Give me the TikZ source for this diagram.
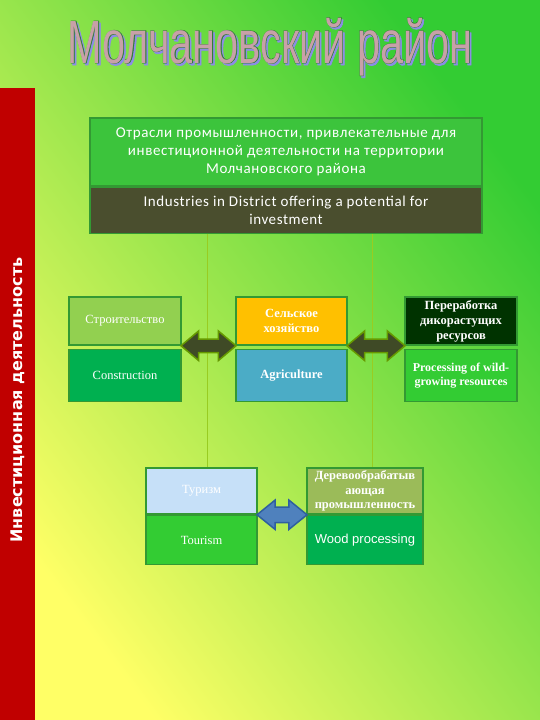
\documentclass[tikz,border=0pt]{standalone}
\usepackage{fontspec}
\setmainfont{Liberation Serif}
\newfontfamily\hdrfont[LetterSpace=4]{Carlito}
\newfontfamily\ttlfont{Liberation Sans}
\newfontfamily\ttlfat[FakeBold=1.2]{Liberation Sans}
\newfontfamily\barfont{DejaVu Sans}
\usetikzlibrary{shapes,arrows,positioning,calc}

\definecolor{bgyellow}{HTML}{FFFF66}
\definecolor{bgmiddle}{HTML}{C2E652}
\definecolor{bggreen}{HTML}{33CC33}
\definecolor{barred}{HTML}{C00000}
\definecolor{boxedge}{HTML}{339933}
\definecolor{hdrgreen}{HTML}{3CC43C}
\definecolor{hdrolive}{HTML}{4A4E2E}
\definecolor{litegreen}{HTML}{92D050}
\definecolor{darkgreen}{HTML}{00B050}
\definecolor{amber}{HTML}{FFC000}
\definecolor{aqua}{HTML}{4BACC6}
\definecolor{forest}{HTML}{003300}
\definecolor{grass}{HTML}{33CC33}
\definecolor{skyblue}{HTML}{C6E0F8}
\definecolor{olivegreen}{HTML}{9BBB59}
\definecolor{arrowolive}{HTML}{3F4A26}
\definecolor{arrowedge}{HTML}{669900}
\definecolor{arrowblue}{HTML}{4F81BD}
\definecolor{arrowblueedge}{HTML}{2F5F9F}
\definecolor{linkgreen}{HTML}{99CC22}
\definecolor{ttlpink}{HTML}{C8A0A8}
\definecolor{ttledge}{HTML}{2E7D32}
\definecolor{ttlshadow}{HTML}{8C8CE6}

\newcommand{\titleword}{Молчановский район}

\begin{document}
\begin{tikzpicture}
				[
					x=1pt, y=-1pt,
					titletext/.style={anchor=base, inner sep=0, xscale=0.68, transform shape, font=\fontsize{61}{61}\selectfont},
					headbox/.style={rectangle, draw=boxedge, line width=1.5pt, minimum width=392, text=white, align=center, font=\hdrfont\fontsize{15}{18}\selectfont},
					topbox/.style={rectangle, draw=boxedge, line width=1.5pt, minimum width=112, minimum height=48, text=white, align=center, inner sep=1pt, font=\fontsize{12.5}{15}\selectfont},
					lowbox/.style={topbox, minimum height=52},
					dblarrow/.style={double arrow, line width=1.5pt, inner sep=6pt, minimum height=55, minimum width=28, double arrow head extend=8, double arrow tip angle=80},
					vlink/.style={draw=linkgreen, line width=0.8pt},
				]

				% background and side bar
				\shade [shading=axis, top color=bggreen, middle color=bgmiddle, bottom color=bgyellow, shading angle=-53] (0,0) rectangle (540,720);
				\useasboundingbox (0,0) rectangle (540,720);
				\fill [barred] (0,88) rectangle (35,720);
				\node [rotate=90, text=white, font=\barfont\bfseries\fontsize{16}{18}\selectfont] (sidebar) at (18,400) {Инвестиционная деятельность};

				% title: shadow, outline, fill
				\node [titletext] (title) at (270,63) {\rlap{\hspace{2.5pt}\raisebox{-2pt}{\color{ttlshadow}\ttlfat\titleword}}\rlap{\color{ttledge}\ttlfat\titleword}{\color{ttlpink}\ttlfont\titleword}};

				% header
				\node [headbox, fill=hdrgreen, minimum height=68] (hdrru) at (286,152) {Отрасли промышленности, привлекательные для\\инвестиционной деятельности на территории\\Молчановского района};
				\node [headbox, fill=hdrolive, minimum height=46] (hdren) [below=0pt of hdrru] {Industries in District offering a potential for\\investment};

				% first row
				\node [topbox, fill=litegreen] (consru) at (125,321) {Строительство};
				\node [lowbox, fill=darkgreen] (consen) [below=3pt of consru] {Construction};
				\node [topbox, fill=amber, minimum width=111] (agriru) at (291.5,321) {\bfseries Сельское\\\bfseries хозяйство};
				\node [lowbox, fill=aqua, minimum width=111] (agrien) [below=3pt of agriru] {\bfseries Agriculture};
				\node [topbox, fill=forest] (wildru) at (461,321) {\bfseries Переработка\\\bfseries дикорастущих\\\bfseries ресурсов};
				\node [lowbox, fill=grass, font=\fontsize{12}{14.5}\selectfont] (wilden) [below=3pt of wildru] {\bfseries Processing of wild-\\\bfseries growing resources};

				% second row
				\node [topbox, fill=skyblue, minimum width=111, minimum height=46] (tourru) at (201.5,491) {Туризм};
				\node [lowbox, fill=grass, minimum width=111, minimum height=49] (touren) [below=0pt of tourru] {Tourism};
				\node [topbox, fill=olivegreen, minimum width=116, minimum height=46, font=\fontsize{12.5}{14.5}\selectfont] (woodru) at (365,491) {\bfseries Деревообрабатыв\\\bfseries ающая\\\bfseries промышленность};
				\node [lowbox, fill=darkgreen, minimum width=116, minimum height=49, font=\ttlfont\fontsize{13}{15}\selectfont] (wooden) [below=0pt of woodru] {Wood processing};

				% links from the header
				\draw [vlink] ([xshift=5.5pt]tourru.north |- hdren.south) -- ([xshift=5.5pt]tourru.north);
				\draw [vlink] ([xshift=7pt]woodru.north |- hdren.south) -- ([xshift=7pt]woodru.north);

				% double arrows
				\node [dblarrow, fill=arrowolive, draw=arrowedge] (consagri) at ($(consru.south east)!0.5!(agriru.south west)$) {};
				\node [dblarrow, fill=arrowolive, draw=arrowedge, minimum height=58] (agriwild) at ($(agriru.south east)!0.5!(wildru.south west)$) {};
				\node [dblarrow, fill=arrowblue, draw=arrowblueedge, inner sep=7pt, minimum height=50, minimum width=27, double arrow head extend=7, double arrow tip angle=78] (tourwood) at ($(tourru.south east)!0.5!(woodru.south west)$) {};

			\end{tikzpicture}
\end{document}
